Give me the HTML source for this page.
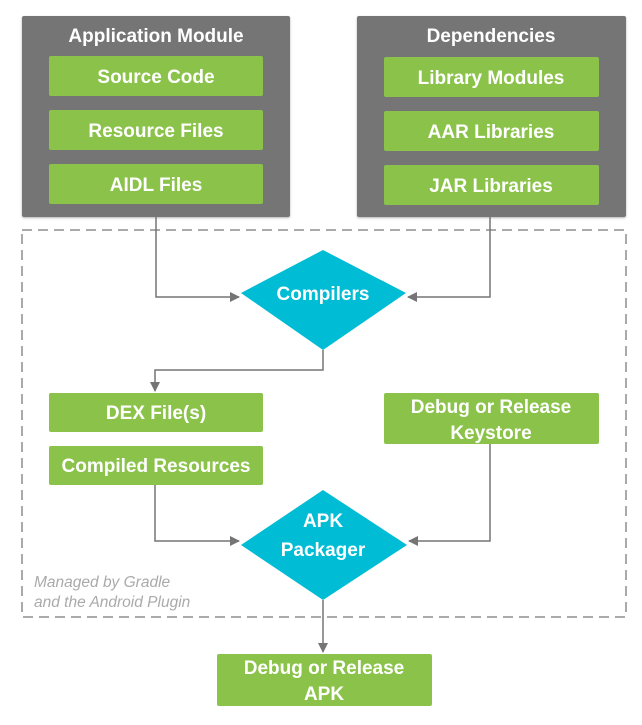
<!DOCTYPE html>
<html><head><meta charset="utf-8"><style>
body{margin:0;background:#fff;width:642px;height:720px;overflow:hidden}
svg text{font-family:"Liberation Sans",sans-serif;fill:#fff;font-size:19px;font-weight:bold;text-anchor:middle}
</style></head><body>
<svg width="642" height="720" viewBox="0 0 642 720" xmlns="http://www.w3.org/2000/svg">
<defs>
<marker id="a" markerWidth="10" markerHeight="10" refX="9" refY="5" orient="auto" markerUnits="userSpaceOnUse"><path d="M0,0 L10,5 L0,10 z" fill="#757575"/></marker>
<filter id="s" x="-10%" y="-10%" width="120%" height="130%"><feDropShadow dx="0" dy="1" stdDeviation="1" flood-opacity="0.3"/></filter>
</defs>
<rect x="22" y="230" width="604" height="387" fill="none" stroke="#aaa" stroke-width="2" stroke-dasharray="10,6"/>
<g filter="url(#s)">
<rect x="22" y="16" width="268" height="201" rx="2" fill="#757575"/>
<rect x="357" y="16" width="269" height="201" rx="2" fill="#757575"/>
</g>
<g fill="#8bc34a">
<rect x="49" y="56" width="214" height="40" rx="2"/>
<rect x="49" y="110" width="214" height="40" rx="2"/>
<rect x="49" y="164" width="214" height="40" rx="2"/>
<rect x="384" y="57" width="215" height="40" rx="2"/>
<rect x="384" y="111" width="215" height="40" rx="2"/>
<rect x="384" y="165" width="215" height="40" rx="2"/>
<rect x="49" y="393" width="214" height="39" rx="2"/>
<rect x="49" y="446" width="214" height="39" rx="2"/>
<rect x="384" y="393" width="215" height="51" rx="2"/>
<rect x="217" y="654" width="215" height="52" rx="2"/>
</g>
<g fill="none" stroke="#757575" stroke-width="1.5">
<path d="M156,217 V297 H239" marker-end="url(#a)"/>
<path d="M490,217 V297 H408" marker-end="url(#a)"/>
<path d="M323,350 V370 H155 V391" marker-end="url(#a)"/>
<path d="M155,485 V541 H239" marker-end="url(#a)"/>
<path d="M490,444 V541 H409" marker-end="url(#a)"/>
<path d="M323,600 V652" marker-end="url(#a)"/>
</g>
<polygon points="241,293 323,250 406,293 323,350" fill="#00bcd4"/>
<polygon points="241,545 323,490 407,545 323,600" fill="#00bcd4"/>
<text x="156" y="42" font-size="20">Application Module</text>
<text x="491" y="42" font-size="20">Dependencies</text>
<text x="156" y="83">Source Code</text>
<text x="156" y="137">Resource Files</text>
<text x="156" y="191">AIDL Files</text>
<text x="491" y="84">Library Modules</text>
<text x="491" y="138">AAR Libraries</text>
<text x="491" y="192">JAR Libraries</text>
<text x="323" y="300">Compilers</text>
<text x="156" y="419">DEX File(s)</text>
<text x="156" y="472">Compiled Resources</text>
<text x="491" y="413">Debug or Release</text>
<text x="491" y="439">Keystore</text>
<text x="323" y="527">APK</text>
<text x="323" y="556">Packager</text>
<text x="324" y="674">Debug or Release</text>
<text x="324" y="700">APK</text>
<text x="34" y="587" style="fill:#aaa;font-size:15.5px;font-weight:normal;font-style:italic;text-anchor:start">Managed by Gradle</text>
<text x="34" y="607" style="fill:#aaa;font-size:15.5px;font-weight:normal;font-style:italic;text-anchor:start">and the Android Plugin</text>
</svg>
</body></html>
